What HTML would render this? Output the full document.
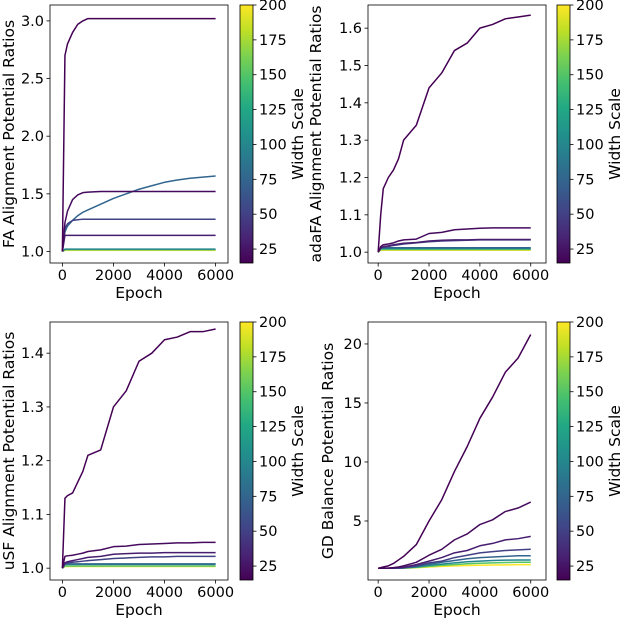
<!DOCTYPE html>
<html><head><meta charset="utf-8"><style>
body{margin:0;background:#fff;width:620px;height:618px;overflow:hidden}
svg{font-family:"DejaVu Sans","Liberation Sans",sans-serif}
</style></head><body>
<svg id="fig" width="620" height="618" viewBox="0 0 620 618" xmlns="http://www.w3.org/2000/svg"></svg>
<script>
const epochs=[0,100,200,400,600,800,1000,1500,2000,2500,3000,3500,4000,4500,5000,5500,6000];
const widths=[15,20,30,50,75,100,150,200];
const faSeries=[
[1.0,2.7,2.8,2.9,2.97,3.0,3.02,3.02,3.02,3.02,3.02,3.02,3.02,3.02,3.02,3.02,3.02],
[1.0,1.25,1.35,1.45,1.49,1.51,1.515,1.52,1.52,1.52,1.52,1.52,1.52,1.52,1.52,1.52,1.52],
[1.0,1.14,1.14,1.14,1.14,1.14,1.14,1.14,1.14,1.14,1.14,1.14,1.14,1.14,1.14,1.14,1.14],
[1.0,1.2,1.24,1.27,1.275,1.28,1.28,1.28,1.28,1.28,1.28,1.28,1.28,1.28,1.28,1.28,1.28],
[1.0,1.17,1.22,1.27,1.31,1.34,1.36,1.41,1.46,1.50,1.54,1.57,1.60,1.62,1.635,1.645,1.655],
[1.0,1.02,1.02,1.02,1.02,1.02,1.02,1.02,1.02,1.02,1.02,1.02,1.02,1.02,1.02,1.02,1.02],
[1.0,1.015,1.015,1.015,1.015,1.015,1.015,1.015,1.015,1.015,1.015,1.015,1.015,1.015,1.015,1.015,1.015],
[1.0,1.01,1.01,1.01,1.01,1.01,1.01,1.01,1.01,1.01,1.01,1.01,1.01,1.01,1.01,1.01,1.01]];
const adaSeries=[
[1.0,1.1,1.17,1.2,1.22,1.25,1.3,1.34,1.44,1.48,1.54,1.56,1.6,1.61,1.625,1.63,1.635],
[1.0,1.015,1.02,1.022,1.025,1.03,1.033,1.035,1.05,1.053,1.06,1.062,1.064,1.065,1.065,1.065,1.065],
[1.0,1.012,1.015,1.017,1.02,1.022,1.024,1.026,1.03,1.032,1.033,1.033,1.034,1.034,1.034,1.034,1.034],
[1.0,1.01,1.013,1.015,1.018,1.02,1.022,1.025,1.028,1.03,1.031,1.032,1.033,1.033,1.033,1.033,1.033],
[1.0,1.012,1.012,1.012,1.012,1.012,1.012,1.012,1.012,1.012,1.012,1.012,1.012,1.012,1.012,1.012,1.012],
[1.0,1.01,1.01,1.01,1.01,1.01,1.01,1.01,1.01,1.01,1.01,1.01,1.01,1.01,1.01,1.01,1.01],
[1.0,1.007,1.007,1.007,1.007,1.007,1.007,1.007,1.007,1.007,1.007,1.007,1.007,1.007,1.007,1.007,1.007],
[1.0,1.005,1.005,1.005,1.005,1.005,1.005,1.005,1.005,1.005,1.005,1.005,1.005,1.005,1.005,1.005,1.005]];
const usfSeries=[
[1.0,1.13,1.135,1.14,1.16,1.18,1.21,1.22,1.3,1.33,1.385,1.4,1.425,1.43,1.44,1.44,1.445],
[1.0,1.022,1.023,1.024,1.026,1.028,1.031,1.034,1.04,1.041,1.044,1.045,1.046,1.047,1.047,1.048,1.048],
[1.0,1.01,1.012,1.014,1.016,1.018,1.02,1.022,1.026,1.027,1.028,1.028,1.029,1.029,1.029,1.029,1.029],
[1.0,1.008,1.01,1.011,1.012,1.013,1.014,1.016,1.018,1.019,1.02,1.021,1.021,1.022,1.022,1.022,1.022],
[1.0,1.008,1.008,1.008,1.008,1.008,1.008,1.008,1.008,1.008,1.008,1.008,1.008,1.008,1.008,1.008,1.008],
[1.0,1.007,1.007,1.007,1.007,1.007,1.007,1.007,1.007,1.007,1.007,1.007,1.007,1.007,1.007,1.007,1.007],
[1.0,1.004,1.004,1.004,1.004,1.004,1.004,1.004,1.004,1.004,1.004,1.004,1.004,1.004,1.004,1.004,1.004],
[1.0,1.003,1.003,1.003,1.003,1.003,1.003,1.003,1.003,1.003,1.003,1.003,1.003,1.003,1.003,1.003,1.003]];
const gdSeries=[
[1,1.05,1.1,1.2,1.4,1.7,2.0,3.0,5.0,6.8,9.2,11.3,13.7,15.5,17.6,18.8,20.8],
[1,1,1,1.02,1.05,1.1,1.2,1.5,2.1,2.6,3.4,3.9,4.7,5.1,5.8,6.1,6.6],
[1,1,1,1,1.02,1.05,1.08,1.3,1.6,1.9,2.3,2.5,2.9,3.1,3.4,3.5,3.7],
[1,1,1,1,1,1.02,1.05,1.2,1.45,1.6,1.9,2.1,2.3,2.4,2.5,2.55,2.6],
[1,1,1,1,1,1,1.03,1.15,1.35,1.5,1.65,1.8,1.9,1.95,2.0,2.05,2.05],
[1,1,1,1,1,1,1.02,1.1,1.25,1.35,1.45,1.55,1.6,1.65,1.68,1.7,1.7],
[1,1,1,1,1,1,1.01,1.07,1.15,1.25,1.3,1.38,1.42,1.45,1.48,1.5,1.5],
[1,1,1,1,1,1,1.0,1.04,1.1,1.15,1.2,1.23,1.25,1.27,1.28,1.3,1.3]];
const xTicks=[0,2000,4000,6000];
const cbTicks=[25,50,75,100,125,150,175,200];

const VIR=["#440154","#482475","#414487","#355f8d","#2a788e","#21918c","#22a884","#44bf70","#7ad151","#bddf26","#fde725"];
function hex(h){return[1,3,5].map(i=>parseInt(h.substr(i,2),16));}
function viridis(t){t=Math.max(0,Math.min(1,t));const p=t*10,i=Math.min(9,Math.floor(p)),f=p-i;const a=hex(VIR[i]),b=hex(VIR[i+1]);return"rgb("+a.map((v,k)=>Math.round(v+(b[k]-v)*f)).join(",")+")";}
const NS="http://www.w3.org/2000/svg";
const svg=document.getElementById('fig');
function mk(tag,attrs,parent){const e=document.createElementNS(NS,tag);for(const k in attrs)e.setAttribute(k,attrs[k]);(parent||svg).appendChild(e);return e;}
let gid=0;
const TF=14.5, LF=15.5;
function panel(o){
  const g=mk('g',{});
  
  
  const X=v=>o.L+(v-o.xmin)/(o.xmax-o.xmin)*(o.R-o.L);
  const Y=v=>o.B-(v-o.ymin)/(o.ymax-o.ymin)*(o.B-o.T);
  for(let s=widths.length-1;s>=0;s--){
    const d=o.series[s].map((v,i)=>(i?'L':'M')+X(epochs[i]).toFixed(2)+','+Y(v).toFixed(2)).join('');
    const p=mk('path',{d:d,fill:'none',stroke:viridis((widths[s]-15)/185),'stroke-width':1.5,'stroke-linejoin':'round'},g);
    
    
  }
  const fr=mk('rect',{x:o.L,y:o.T,width:o.R-o.L,height:o.B-o.T,fill:'none',stroke:'#000','stroke-width':0.8},g);
  
  
  xTicks.forEach(t=>{const x=X(t);mk('line',{x1:x,x2:x,y1:o.B,y2:o.B+3.5,stroke:'#000','stroke-width':0.8},g);
    const tx=mk('text',{x:x,y:o.B+17,'font-size':TF,'text-anchor':'middle'},g);tx.textContent=t;
    
    });
  o.yTicks.forEach(t=>{const y=Y(t);mk('line',{x1:o.L,x2:o.L-3.5,y1:y,y2:y,stroke:'#000','stroke-width':0.8},g);
    const tx=mk('text',{x:o.L-6,y:y+5,'font-size':TF,'text-anchor':'end'},g);tx.textContent=o.fmt(t);
    
    });
  const xl=mk('text',{x:(o.L+o.R)/2,y:o.B+35,'font-size':LF,'text-anchor':'middle'},g);xl.textContent='Epoch';
  
  
  const yl=mk('text',{x:0,y:0,'font-size':LF,'text-anchor':'middle',transform:`translate(${o.ylx},${(o.T+o.B)/2}) rotate(-90)`},g);yl.textContent=o.ylabel;
  
  
  const id='cg'+(gid++);
  const defs=mk('defs',{},g);const lg=mk('linearGradient',{id:id,x1:0,y1:1,x2:0,y2:0},defs);
  for(let i=0;i<=10;i++)mk('stop',{offset:i/10,'stop-color':VIR[i]},lg);
  const cb=mk('rect',{x:o.cx,y:o.T,width:13,height:o.B-o.T,fill:`url(#${id})`,stroke:'#000','stroke-width':0.8},g);
  
  
  const CY=v=>o.B-(v-15)/185*(o.B-o.T);
  cbTicks.forEach(t=>{const y=CY(t);mk('line',{x1:o.cx+13,x2:o.cx+16.5,y1:y,y2:y,stroke:'#000','stroke-width':0.8},g);
    const tx=mk('text',{x:o.cx+19,y:y+5,'font-size':TF},g);tx.textContent=t;
    
    });
  const cl=mk('text',{x:0,y:0,'font-size':LF,'text-anchor':'middle',transform:`translate(${o.cx+63},${(o.T+o.B)/2}) rotate(-90)`},g);cl.textContent='Width Scale';
  
  
}
const f1=v=>v.toFixed(1), f0=v=>String(v);
panel({name:'fa-panel',series:faSeries,L:50,R:228,T:5,B:263,xmin:-485,xmax:6485,ymin:0.9,ymax:3.138,yTicks:[1.0,1.5,2.0,2.5,3.0],fmt:f1,ylabel:'FA Alignment Potential Ratios',ylx:14,cx:240});
panel({name:'adafa-panel',series:adaSeries,L:368,R:546,T:5,B:263,xmin:-400,xmax:6600,ymin:0.971,ymax:1.662,yTicks:[1.0,1.1,1.2,1.3,1.4,1.5,1.6],fmt:f1,ylabel:'adaFA Alignment Potential Ratios',ylx:321,cx:557});
panel({name:'usf-panel',series:usfSeries,L:50,R:228,T:322,B:580,xmin:-485,xmax:6485,ymin:0.978,ymax:1.458,yTicks:[1.0,1.1,1.2,1.3,1.4],fmt:f1,ylabel:'uSF Alignment Potential Ratios',ylx:14,cx:240});
panel({name:'gd-panel',series:gdSeries,L:368,R:546,T:322,B:580,xmin:-400,xmax:6600,ymin:0.0,ymax:21.86,yTicks:[5,10,15,20],fmt:f0,ylabel:'GD Balance Potential Ratios',ylx:333,cx:557});
</script>
</body></html>
